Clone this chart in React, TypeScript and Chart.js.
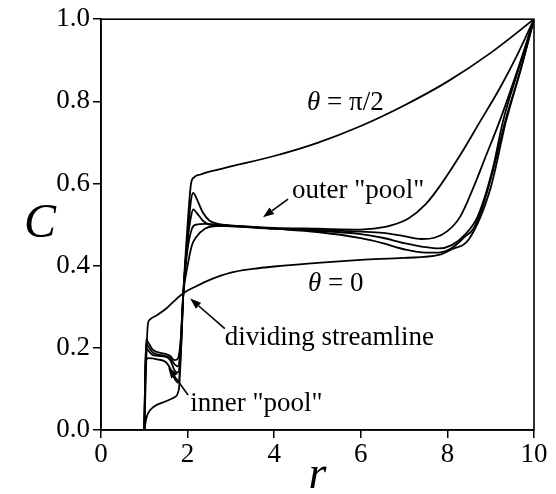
import React, { useEffect, useRef } from "react";
import { Chart, registerables } from "chart.js";

Chart.register(...registerables);

const xTicks = [0, 2, 4, 6, 8, 10];
const yTicks = [0.0, 0.2, 0.4, 0.6, 0.8, 1.0];

// theta = pi/2
const rPiHalf = [1.0, 1.05, 1.2, 1.5, 1.7, 1.8, 1.85, 1.9, 2.0, 2.08, 2.15, 2.3, 2.7, 3.0, 4.0, 5.0, 6.0, 7.0, 8.0, 9.0, 10.0];
const cPiHalf = [0.0, 0.03, 0.055, 0.07, 0.08, 0.1, 0.2, 0.33, 0.5, 0.6, 0.615, 0.622, 0.634, 0.642, 0.667, 0.699, 0.74, 0.79, 0.848, 0.918, 1.0];

// intermediate A (nearest pi/2)
const rA = [1.0, 1.04, 1.1, 1.3, 1.5, 1.6, 1.7, 1.78, 1.85, 1.9, 2.0, 2.08, 2.13, 2.2, 2.35, 2.5, 2.7, 3.0, 4.0, 5.0, 6.0, 6.3, 6.7, 7.1, 7.5, 7.8, 8.3, 8.75, 9.2, 9.6, 10.0];
const cA = [0.0, 0.17, 0.175, 0.172, 0.165, 0.15, 0.125, 0.115, 0.2, 0.33, 0.47, 0.56, 0.577, 0.565, 0.53, 0.51, 0.502, 0.498, 0.492, 0.49, 0.488, 0.49, 0.498, 0.515, 0.55, 0.59, 0.67, 0.75, 0.83, 0.91, 1.0];

// intermediate B
const rB = [1.0, 1.04, 1.08, 1.2, 1.5, 1.6, 1.7, 1.78, 1.84, 1.9, 2.0, 2.08, 2.13, 2.2, 2.35, 2.5, 3.0, 4.0, 5.0, 6.0, 6.5, 7.0, 7.4, 7.7, 8.0, 8.3, 8.6, 8.9, 9.2, 9.6, 10.0];
const cB = [0.0, 0.2, 0.195, 0.182, 0.178, 0.17, 0.145, 0.14, 0.2, 0.33, 0.46, 0.52, 0.537, 0.53, 0.51, 0.5, 0.496, 0.49, 0.487, 0.483, 0.48, 0.472, 0.465, 0.468, 0.484, 0.52, 0.59, 0.67, 0.75, 0.87, 1.0];

// intermediate C
const rC = [1.0, 1.04, 1.08, 1.2, 1.5, 1.6, 1.7, 1.78, 1.84, 1.9, 2.0, 2.1, 2.2, 2.4, 3.0, 4.0, 5.0, 6.0, 6.5, 7.0, 7.5, 7.8, 8.1, 8.4, 8.7, 9.05, 9.28, 9.65, 10.0];
const cC = [0.0, 0.21, 0.205, 0.188, 0.18, 0.175, 0.16, 0.155, 0.21, 0.33, 0.44, 0.49, 0.5, 0.502, 0.497, 0.49, 0.485, 0.477, 0.468, 0.455, 0.445, 0.442, 0.45, 0.475, 0.52, 0.637, 0.75, 0.88, 1.0];

// intermediate D (nearest 0)
const rD = [1.0, 1.04, 1.08, 1.2, 1.5, 1.6, 1.7, 1.78, 1.84, 1.9, 2.0, 2.1, 2.2, 2.4, 2.6, 3.0, 4.0, 5.0, 6.0, 6.5, 7.0, 7.5, 7.8, 8.1, 8.4, 8.6, 8.8, 9.05, 9.33, 9.7, 10.0];
const cD = [0.0, 0.22, 0.215, 0.195, 0.185, 0.18, 0.17, 0.175, 0.22, 0.33, 0.4, 0.45, 0.47, 0.49, 0.496, 0.497, 0.49, 0.482, 0.467, 0.455, 0.44, 0.432, 0.432, 0.443, 0.47, 0.49, 0.54, 0.63, 0.75, 0.88, 1.0];

// theta = 0
const rZero = [1.0, 1.08, 1.12, 1.3, 1.5, 1.7, 1.9, 2.2, 2.5, 3.0, 3.5, 4.0, 5.0, 6.0, 7.0, 7.8, 8.1, 8.5, 9.0, 9.35, 9.7, 10.0];
const cZero = [0.0, 0.255, 0.268, 0.28, 0.295, 0.315, 0.333, 0.35, 0.365, 0.383, 0.392, 0.398, 0.407, 0.414, 0.419, 0.426, 0.44, 0.465, 0.59, 0.75, 0.88, 1.0];

const seriesR = [rPiHalf, rA, rB, rC, rD, rZero];
const seriesC = [cPiHalf, cA, cB, cC, cD, cZero];

const SERIF = "'Liberation Serif', 'Times New Roman', serif";

const texts = [
  { parts: [["italic", "θ"], ["normal", " = π/2"]], r: 4.76, c: 0.78 },
  { parts: [["normal", "outer \"pool\""]], r: 4.41, c: 0.564 },
  { parts: [["italic", "θ"], ["normal", " = 0"]], r: 4.78, c: 0.339 },
  { parts: [["normal", "dividing streamline"]], r: 2.86, c: 0.206 },
  { parts: [["normal", "inner \"pool\""]], r: 2.06, c: 0.046 },
];

const arrows = [
  { r0: 4.32, c0: 0.562, r1: 3.74, c1: 0.518 },
  { r0: 2.86, c0: 0.247, r1: 2.06, c1: 0.32 },
  { r0: 2.01, c0: 0.085, r1: 1.55, c1: 0.153 },
];

const decorPlugin = {
  id: "decor",
  afterDraw(chart: any) {
    const ctx = chart.ctx;
    const a = chart.chartArea;
    const xs = chart.scales.x;
    const ys = chart.scales.y;
    ctx.save();
    ctx.strokeStyle = "#000";
    ctx.lineWidth = 1.6;
    ctx.strokeRect(a.left, a.top, a.right - a.left, a.bottom - a.top);

    ctx.fillStyle = "#000";
    ctx.textBaseline = "alphabetic";
    ctx.textAlign = "left";
    for (const t of texts) {
      let x = xs.getPixelForValue(t.r);
      const y = ys.getPixelForValue(t.c);
      for (const [style, s] of t.parts) {
        ctx.font = `${style} 27px ${SERIF}`;
        ctx.fillText(s, x, y);
        x += ctx.measureText(s).width;
      }
    }

    ctx.lineWidth = 1.6;
    for (const ar of arrows) {
      const x0 = xs.getPixelForValue(ar.r0);
      const y0 = ys.getPixelForValue(ar.c0);
      const x1 = xs.getPixelForValue(ar.r1);
      const y1 = ys.getPixelForValue(ar.c1);
      const ang = Math.atan2(y1 - y0, x1 - x0);
      const hl = 11;
      const hw = 4;
      const bx = x1 - hl * Math.cos(ang);
      const by = y1 - hl * Math.sin(ang);
      ctx.beginPath();
      ctx.moveTo(x0, y0);
      ctx.lineTo(bx, by);
      ctx.stroke();
      ctx.beginPath();
      ctx.moveTo(x1, y1);
      ctx.lineTo(bx + hw * Math.sin(ang), by - hw * Math.cos(ang));
      ctx.lineTo(bx - hw * Math.sin(ang), by + hw * Math.cos(ang));
      ctx.closePath();
      ctx.fill();
    }

    ctx.font = `italic 48px ${SERIF}`;
    ctx.textAlign = "center";
    ctx.textBaseline = "middle";
    ctx.fillText("C", 40, (a.top + a.bottom) / 2);
    ctx.font = `italic 46px ${SERIF}`;
    ctx.textBaseline = "alphabetic";
    ctx.fillText("r", (a.left + a.right) / 2, 488);
    ctx.restore();
  },
};

export default function App() {
  const ref = useRef<HTMLCanvasElement | null>(null);
  useEffect(() => {
    if (!ref.current) return;
    const datasets = seriesR.map((rs, k) => ({
      data: rs.map((x, i) => ({ x, y: seriesC[k][i] })),
      showLine: true,
      borderColor: "#000",
      borderWidth: 1.8,
      pointRadius: 0,
      fill: false,
      cubicInterpolationMode: "monotone" as const,
    }));
    const chart = new Chart(ref.current, {
      type: "scatter",
      data: { datasets },
      options: {
        animation: false,
        responsive: true,
        maintainAspectRatio: false,
        layout: { padding: { left: 0, right: 22, top: 17, bottom: 0 } },
        plugins: { legend: { display: false }, tooltip: { enabled: false } },
        scales: {
          x: {
            type: "linear",
            min: 0,
            max: 10,
            afterFit: (s: any) => { s.height = 64; },
            afterBuildTicks: (s: any) => { s.ticks = xTicks.map((v) => ({ value: v })); },
            ticks: { color: "#000", font: { family: SERIF, size: 27 }, padding: 1, maxRotation: 0, callback: (v: any) => String(v) },
            grid: { drawOnChartArea: false, drawTicks: true, tickLength: 8, color: "#000", lineWidth: 1.5 },
            border: { display: true, color: "#000", width: 1.6 },
          },
          y: {
            type: "linear",
            min: 0,
            max: 1,
            afterFit: (s: any) => { s.width = 101; },
            afterBuildTicks: (s: any) => { s.ticks = yTicks.map((v) => ({ value: v })); },
            ticks: { color: "#000", font: { family: SERIF, size: 27 }, padding: 3, callback: (v: any) => Number(v).toFixed(1) },
            grid: { drawOnChartArea: false, drawTicks: true, tickLength: 8, color: "#000", lineWidth: 1.5 },
            border: { display: true, color: "#000", width: 1.6 },
          },
        },
      },
      plugins: [decorPlugin],
    });
    return () => chart.destroy();
  }, []);
  return (
    <div style={{ position: "fixed", left: 0, top: 0, width: 556, height: 494, background: "#fff" }}>
      <canvas ref={ref} />
    </div>
  );
}
